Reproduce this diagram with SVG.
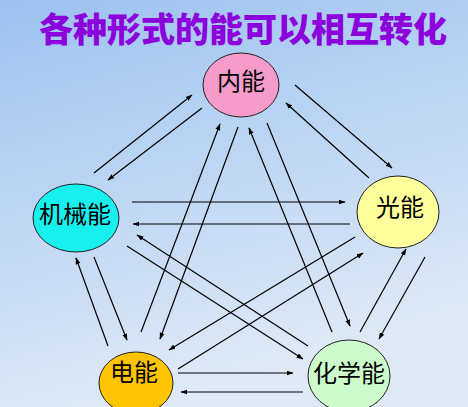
<svg xmlns="http://www.w3.org/2000/svg" width="468" height="407" viewBox="0 0 468 407">
<defs>
<linearGradient id="bg" x1="0" y1="0" x2="0.3" y2="1">
<stop offset="0" stop-color="#9cc2f1"/>
<stop offset="1" stop-color="#e0eaf6"/>
</linearGradient>
<marker id="ah" viewBox="0 0 10 10" refX="9" refY="5" markerWidth="7" markerHeight="7" markerUnits="userSpaceOnUse" orient="auto">
<path d="M0,1.5 L10,5 L0,8.5 Z" fill="#000"/>
</marker>
<style>
.n{stroke:#222;stroke-width:1}
.t{font-family:"Noto Sans CJK SC",sans-serif;font-size:24px;fill:#000;text-anchor:middle}
.c line{stroke:#000;stroke-width:1.2;marker-end:url(#ah)}
</style>
</defs>
<rect width="468" height="407" fill="url(#bg)"/>
<text x="243" y="42" font-family="Noto Sans CJK SC, sans-serif" font-size="34" font-weight="900" fill="#8c00dc" text-anchor="middle">各种形式的能可以相互转化</text>
<g class="c" id="connectors">
<line x1="94" y1="173" x2="192" y2="95"/>
<line x1="202" y1="108" x2="108" y2="180"/>
<line x1="141" y1="332" x2="220" y2="124"/>
<line x1="238" y1="127" x2="160" y2="339"/>
<line x1="332" y1="332" x2="249" y2="128"/>
<line x1="267" y1="123" x2="350" y2="326"/>
<line x1="295" y1="85" x2="392" y2="168"/>
<line x1="369" y1="178" x2="286" y2="103"/>
<line x1="132" y1="202" x2="345" y2="202"/>
<line x1="350" y1="224" x2="133" y2="224"/>
<line x1="308" y1="346" x2="137" y2="235"/>
<line x1="127" y1="246" x2="303" y2="359"/>
<line x1="355" y1="237" x2="169" y2="350"/>
<line x1="178" y1="369" x2="363" y2="253"/>
<line x1="94" y1="257" x2="127" y2="340"/>
<line x1="108" y1="346" x2="76" y2="258"/>
<line x1="425" y1="257" x2="379" y2="339"/>
<line x1="360" y1="332" x2="406" y2="249"/>
<line x1="178" y1="373" x2="293" y2="373"/>
<line x1="303" y1="392" x2="181" y2="392"/>
</g>
<g id="neineng">
<ellipse class="n" cx="241" cy="85" rx="38" ry="32" fill="#f69ccb"/>
<text class="t" x="241" y="90">内能</text>
</g>
<g id="jixieneng">
<ellipse class="n" cx="76" cy="218" rx="43" ry="34" fill="#18f0f0"/>
<text class="t" x="75" y="223">机械能</text>
</g>
<g id="guangneng">
<ellipse class="n" cx="398" cy="212" rx="41" ry="36" fill="#ffff9c"/>
<text class="t" x="400" y="216">光能</text>
</g>
<g id="dianneng">
<ellipse class="n" cx="136" cy="383" rx="37" ry="31" fill="#ffc400"/>
<text class="t" x="134" y="381">电能</text>
</g>
<g id="huaxueneng">
<ellipse class="n" cx="349" cy="376" rx="41" ry="36" fill="#ccfccc"/>
<text class="t" x="349" y="382">化学能</text>
</g>
</svg>
